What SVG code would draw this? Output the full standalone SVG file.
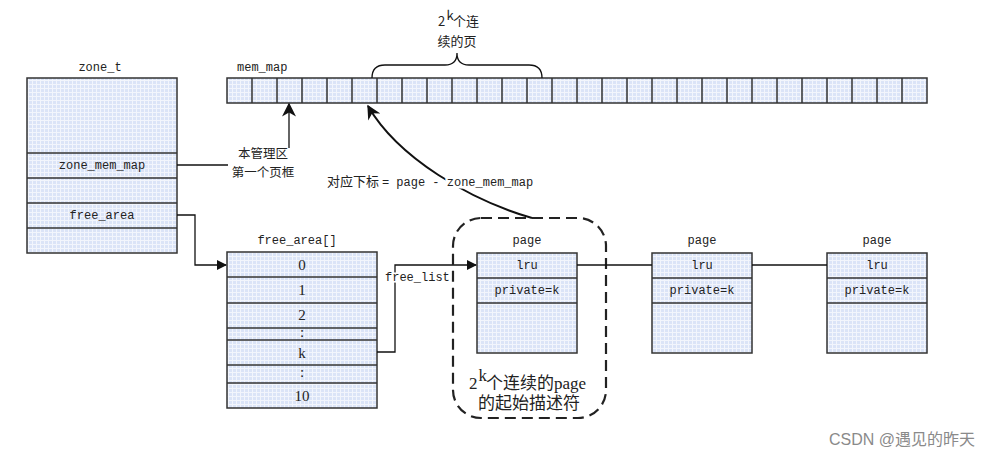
<svg xmlns="http://www.w3.org/2000/svg" width="991" height="458" viewBox="0 0 991 458">
<style>
.box{fill:url(#dots);stroke:#333;stroke-width:1.5}
.div{stroke:#333;stroke-width:1.5}
.ln{fill:none;stroke:#111;stroke-width:1.3}
.mono{font-family:"Liberation Mono","Noto Sans CJK SC",monospace;font-size:12px;fill:#222}
.num{font-family:"Liberation Serif","Noto Sans CJK SC",serif;font-size:15px;fill:#222}
.cn{font-family:"Noto Sans CJK SC",sans-serif;font-size:13px;fill:#222}
.cns{font-family:"Noto Sans CJK SC",sans-serif;font-size:12.5px;fill:#222}
.big{font-family:"Liberation Serif","Noto Sans CJK SC",serif;font-size:17px;fill:#222}
</style>
<defs>
<pattern id="dots" width="4" height="4" patternUnits="userSpaceOnUse">
<rect width="4" height="4" fill="#dbe4f7"/>
<rect x="0" y="0" width="4" height="1" fill="#f2f5fc"/>
<rect x="0" y="0" width="1" height="4" fill="#f2f5fc"/>
</pattern>
<marker id="arr" viewBox="0 0 10 10" refX="9" refY="5" markerWidth="10" markerHeight="10" markerUnits="userSpaceOnUse" orient="auto">
<path d="M0,0 L10,5 L0,10 z" fill="#111"/>
</marker>
<marker id="arrBig" viewBox="0 0 10 10" refX="9" refY="5" markerWidth="16" markerHeight="14" markerUnits="userSpaceOnUse" orient="auto">
<path d="M0,0 L10,5 L0,10 L3,5 z" fill="#111"/>
</marker>
</defs>
<rect width="991" height="458" fill="#fff"/>

<g id="zone_t">
<text class="mono" x="100" y="71" text-anchor="middle">zone_t</text>
<rect class="box" x="27" y="78" width="150" height="175"/>
<line class="div" x1="27" y1="153" x2="177" y2="153"/>
<line class="div" x1="27" y1="178" x2="177" y2="178"/>
<line class="div" x1="27" y1="203" x2="177" y2="203"/>
<line class="div" x1="27" y1="228" x2="177" y2="228"/>
<text class="mono" x="102" y="169" text-anchor="middle">zone_mem_map</text>
<text class="mono" x="102" y="219" text-anchor="middle">free_area</text>
</g>

<g id="mem_map">
<text class="mono" x="237" y="71">mem_map</text>
<rect class="box" x="227" y="78" width="700" height="25"/>
<path class="div" fill="none" d="M252,78V103M277,78V103M302,78V103M327,78V103M352,78V103M377,78V103M402,78V103M427,78V103M452,78V103M477,78V103M502,78V103M527,78V103M552,78V103M577,78V103M602,78V103M627,78V103M652,78V103M677,78V103M702,78V103M727,78V103M752,78V103M777,78V103M802,78V103M827,78V103M852,78V103M877,78V103M902,78V103"/>
</g>

<g id="brace">
<path class="ln" d="M372,78 Q372,65 385,65 L445,65 Q457,65 457,53 Q457,65 469,65 L529,65 Q542,65 542,78"/>
<text class="cn" x="438" y="26">2</text>
<text class="cn" x="446.5" y="20" font-size="10">k</text>
<text class="cn" x="453" y="26">个连</text>
<text class="cn" x="457" y="46" text-anchor="middle">续的页</text>
</g>

<g id="free_area_arr">
<text class="mono" x="297" y="244" text-anchor="middle">free_area[]</text>
<rect class="box" x="227" y="252" width="150" height="156"/>
<line class="div" x1="227" y1="277" x2="377" y2="277"/>
<line class="div" x1="227" y1="303" x2="377" y2="303"/>
<line class="div" x1="227" y1="328" x2="377" y2="328"/>
<line class="div" x1="227" y1="340" x2="377" y2="340"/>
<line class="div" x1="227" y1="365" x2="377" y2="365"/>
<line class="div" x1="227" y1="383" x2="377" y2="383"/>
<text class="num" x="302" y="270" text-anchor="middle">0</text>
<text class="num" x="302" y="295" text-anchor="middle">1</text>
<text class="num" x="302" y="320" text-anchor="middle">2</text>
<text class="num" x="302" y="337" text-anchor="middle" font-size="10">:</text>
<text class="num" x="302" y="358" text-anchor="middle">k</text>
<text class="num" x="302" y="377" text-anchor="middle" font-size="10">:</text>
<text class="num" x="302" y="401" text-anchor="middle">10</text>
</g>

<g id="group_box">
<rect x="453" y="218" width="153" height="200" rx="28" ry="28" fill="none" stroke="#222" stroke-width="2.2" stroke-dasharray="11,6"/>
<text class="big" x="469" y="389">2</text>
<text class="big" x="478.5" y="381" font-size="12">k</text>
<text class="big" x="486" y="389">个连续的page</text>
<text class="big" x="529" y="409" text-anchor="middle">的起始描述符</text>
</g>

<g id="page1">
<text class="mono" x="527" y="244" text-anchor="middle">page</text>
<rect class="box" x="477" y="253" width="100" height="100"/>
<line class="div" x1="477" y1="278" x2="577" y2="278"/>
<line class="div" x1="477" y1="303" x2="577" y2="303"/>
<text class="mono" x="527" y="269" text-anchor="middle">lru</text>
<text class="mono" x="527" y="294" text-anchor="middle">private=k</text>
</g>

<g id="page2">
<text class="mono" x="702" y="244" text-anchor="middle">page</text>
<rect class="box" x="652" y="253" width="100" height="100"/>
<line class="div" x1="652" y1="278" x2="752" y2="278"/>
<line class="div" x1="652" y1="303" x2="752" y2="303"/>
<text class="mono" x="702" y="269" text-anchor="middle">lru</text>
<text class="mono" x="702" y="294" text-anchor="middle">private=k</text>
</g>

<g id="page3">
<text class="mono" x="877" y="244" text-anchor="middle">page</text>
<rect class="box" x="827" y="253" width="100" height="100"/>
<line class="div" x1="827" y1="278" x2="927" y2="278"/>
<line class="div" x1="827" y1="303" x2="927" y2="303"/>
<text class="mono" x="877" y="269" text-anchor="middle">lru</text>
<text class="mono" x="877" y="294" text-anchor="middle">private=k</text>
</g>

<g id="connectors">
<path class="ln" d="M177,165 H228"/>
<path class="ln" d="M289,148 V104" marker-end="url(#arrBig)"/>
<path class="ln" d="M177,215 H195 V265 H226" marker-end="url(#arr)"/>
<path class="ln" d="M377,352 H395 V265 H476" marker-end="url(#arr)"/>
<path class="ln" d="M577,265 H652"/>
<path class="ln" d="M752,265 H827"/>
<path fill="none" stroke="#111" stroke-width="2" d="M532,218 C470,200 398,158 368,106" marker-end="url(#arrBig)"/>
</g>

<g id="labels">
<text class="cns" x="263" y="158" text-anchor="middle">本管理区</text>
<text class="cns" x="263" y="177" text-anchor="middle">第一个页框</text>
<text class="cn" x="327" y="186" stroke="#fff" stroke-width="5" paint-order="stroke">对应下标 <tspan class="mono" stroke="#fff" stroke-width="5" paint-order="stroke">= page - zone_mem_map</tspan></text>
<text class="mono" x="385" y="281" fill="#222" stroke="#fff" stroke-width="3" paint-order="stroke">free_list</text>
</g>

<text x="975" y="445" text-anchor="end" font-family="'Liberation Sans','Noto Sans CJK SC',sans-serif" font-size="16" fill="#8a8a8a">CSDN @遇见的昨天</text>
</svg>
